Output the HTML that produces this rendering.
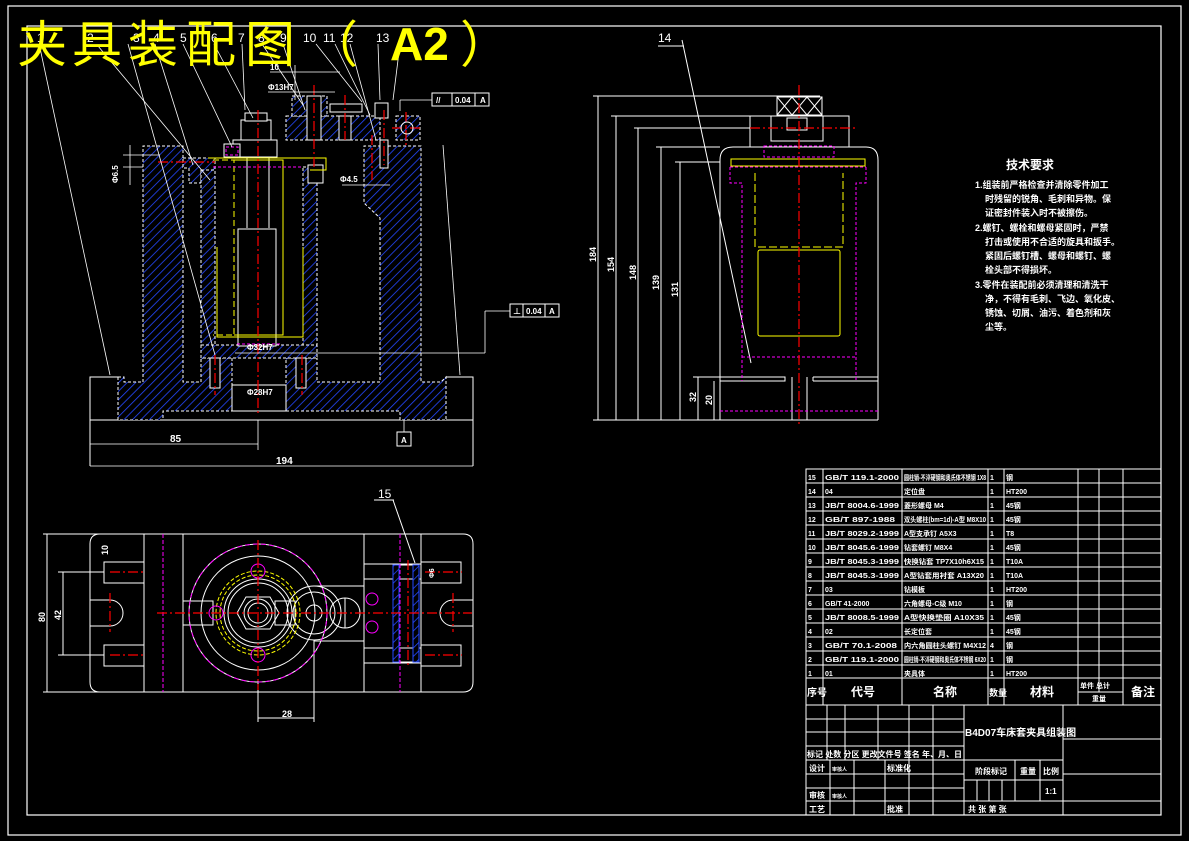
<!DOCTYPE html>
<html><head><meta charset="utf-8"><style>
html,body{margin:0;padding:0;background:#000;}
svg{display:block}
text{font-family:"Liberation Sans","Noto Sans CJK SC",sans-serif;}
</style></head><body>
<svg width="1189" height="841" viewBox="0 0 1189 841" xmlns="http://www.w3.org/2000/svg">
<defs>
<pattern id="h" patternUnits="userSpaceOnUse" width="6" height="6" patternTransform="rotate(45)">
<rect width="6" height="6" fill="#000"/><line x1="0" y1="0" x2="0" y2="6" stroke="#2448ff" stroke-width="1.6"/>
</pattern>
</defs>
<rect x="0" y="0" width="1189" height="841" fill="#000"/>
<rect x="8" y="6" width="1173" height="829" fill="none" stroke="#fff" stroke-width="1.2"/>
<rect x="27" y="26" width="1134" height="789" fill="none" stroke="#fff" stroke-width="1.2"/>

<!-- ===== FRONT VIEW ===== -->
<g stroke="#fff" stroke-width="1" fill="none">
<polyline points="90,466 90,377 118,377"/>
<polyline points="446,377 473,377 473,466"/>
<line x1="90" y1="420" x2="473" y2="420"/>
</g>
<g fill="url(#h)" stroke="#fff" stroke-width="1" stroke-dasharray="3,2">
<path d="M118,377 L124,377 L124,382 L143,382 L143,146 L183,146 L183,382 L201,382 L201,358 L232,358 L232,377 L232,396 L286,396 L286,358 L317,358 L317,382 L380,382 L380,218 L364,203 L364,146 L421,146 L421,382 L441,382 L446,377 L446,420 L400,420 L400,411 L163,411 L163,420 L118,420 Z"/>
<path d="M183,158 L215,158 L215,170 L201,170 L201,183 L189,183 L189,168 L183,168 Z"/>
<path d="M201,170 L215,170 L215,345 L201,345 Z"/>
<path d="M303,167 L317,167 L317,345 L303,345 Z"/>
<path d="M201,345 L317,345 L317,358 L201,358 Z"/>
<path d="M286,116 L380,116 L380,140 L286,140 Z"/>
<path d="M292,96 L327,96 L327,116 L292,116 Z"/>
<path d="M396,116 L420,116 L420,140 L396,140 Z"/>
</g>
<g stroke="#fff" stroke-width="1" fill="#000">
<rect x="307" y="96" width="14" height="44"/>
<rect x="339" y="116" width="12" height="24"/>
<rect x="330" y="104" width="32" height="8"/>
<rect x="375" y="103" width="13" height="15"/>
<rect x="380" y="140" width="8" height="28"/>
<rect x="308" y="165" width="15" height="18"/>
<rect x="233" y="140" width="44" height="17"/>
<rect x="241" y="120" width="30" height="20"/>
<rect x="245" y="113" width="22" height="8"/>
<rect x="224" y="144" width="16" height="13"/>
<rect x="232" y="385" width="54" height="26"/>
<rect x="238" y="229" width="38" height="117"/>
<line x1="247" y1="157" x2="247" y2="228"/><line x1="269" y1="157" x2="269" y2="228"/>
<rect x="210" y="358" width="10" height="30"/><rect x="296" y="358" width="10" height="30"/>
</g>
<g stroke="#ff0" stroke-width="1" fill="none">
<polyline points="208,158 326,158 326,170 310,170"/>
<path d="M213,160 L234,160 L234,335 L213,335" stroke-dasharray="6,3"/>
<path d="M234,160 L283,160 L283,335 L234,335"/>
<path d="M217,247 L217,337 L303,337 L303,247"/>
</g>
<g stroke="#f0f" stroke-width="1" stroke-dasharray="3,2" fill="none">
<line x1="213" y1="167" x2="303" y2="167"/><line x1="237" y1="344" x2="280" y2="344"/>
<rect x="226" y="147" width="12" height="8"/>
</g>
<g stroke="#f00" stroke-width="1.2" stroke-dasharray="10,3,2,3" fill="none">
<line x1="258" y1="110" x2="258" y2="415"/>
<line x1="314" y1="85" x2="314" y2="170"/>
<line x1="345" y1="95" x2="345" y2="140"/>
<line x1="384" y1="110" x2="384" y2="165"/>
<line x1="372" y1="135" x2="372" y2="180"/>
<line x1="215" y1="355" x2="215" y2="395"/>
<line x1="302" y1="355" x2="302" y2="395"/>
<line x1="158" y1="162" x2="215" y2="162"/>
<line x1="392" y1="128" x2="420" y2="128"/>
<line x1="406" y1="112" x2="406" y2="145"/>
</g>
<circle cx="407" cy="128" r="6" fill="none" stroke="#fff"/>
<g stroke="#fff" stroke-width="0.8" fill="none">
<line x1="40" y1="48" x2="110" y2="375"/>
<line x1="98" y1="46" x2="210" y2="180"/>
<line x1="128" y1="44" x2="215" y2="355"/>
<line x1="155" y1="44" x2="193" y2="165"/>
<line x1="183" y1="44" x2="232" y2="147"/>
<line x1="214" y1="44" x2="253" y2="118"/>
<line x1="242" y1="44" x2="245" y2="110"/>
<line x1="262" y1="44" x2="303" y2="105"/>
<line x1="283" y1="44" x2="305" y2="110"/>
<line x1="316" y1="44" x2="362" y2="102"/>
<line x1="335" y1="44" x2="370" y2="115"/>
<line x1="350" y1="44" x2="376" y2="140"/>
<line x1="378" y1="44" x2="380" y2="100"/>
<line x1="400" y1="44" x2="393" y2="100"/>
<line x1="443" y1="145" x2="460" y2="375"/>
<line x1="90" y1="444" x2="258" y2="444"/><line x1="258" y1="420" x2="258" y2="450"/>
<line x1="90" y1="466" x2="473" y2="466"/>
<line x1="123" y1="155" x2="160" y2="155"/><line x1="123" y1="167" x2="143" y2="167"/>
<line x1="130" y1="145" x2="130" y2="185"/>
<line x1="342" y1="185" x2="390" y2="185"/>
<line x1="270" y1="72" x2="340" y2="72"/><line x1="268" y1="92" x2="335" y2="92"/>
<line x1="295" y1="65" x2="295" y2="100"/>
<line x1="400" y1="100" x2="400" y2="111"/><line x1="400" y1="100" x2="432" y2="100"/>
<line x1="235" y1="353" x2="485" y2="353"/><line x1="485" y1="353" x2="485" y2="311"/><line x1="485" y1="311" x2="510" y2="311"/>
<line x1="404" y1="420" x2="404" y2="432"/>
</g>
<g stroke="#fff" fill="none" stroke-width="1">
<rect x="432" y="93" width="57" height="13"/><line x1="452" y1="93" x2="452" y2="106"/><line x1="475" y1="93" x2="475" y2="106"/>
<rect x="510" y="304" width="49" height="13"/><line x1="523" y1="304" x2="523" y2="317"/><line x1="545" y1="304" x2="545" y2="317"/>
<rect x="397" y="432" width="14" height="14"/>
</g>
<g fill="#fff" font-size="8" font-weight="bold">
<text x="436" y="103">//</text><text x="455" y="103">0.04</text><text x="480" y="103">A</text>
<text x="513" y="314">⊥</text><text x="526" y="314">0.04</text><text x="549" y="314">A</text>
<text x="401" y="443">A</text>
<text x="170" y="442" font-size="10">85</text>
<text x="276" y="464" font-size="10">194</text>
<text x="247" y="350">Φ32H7</text><text x="247" y="395">Φ28H7</text>
<text x="340" y="182">Φ4.5</text><text x="270" y="70">10</text><text x="268" y="90">Φ13H7</text>
<text x="118" y="183" transform="rotate(-90 118 183)">Φ6.5</text>
</g>
<g fill="#fff" font-size="12" font-family="Liberation Serif,serif">
<text x="37" y="42">1</text><text x="87" y="42">2</text><text x="133" y="42">3</text><text x="153" y="42">4</text><text x="180" y="42">5</text><text x="211" y="42">6</text><text x="238" y="42">7</text><text x="258" y="42">8</text><text x="280" y="42">9</text><text x="303" y="42">10</text><text x="323" y="42">11</text><text x="340" y="42">12</text><text x="376" y="42">13</text>
<text x="658" y="42">14</text><text x="378" y="498">15</text>
</g>
<g fill="#ff0" font-size="50">
<text x="17" y="62" font-family="'Noto Serif CJK SC',serif">夹</text>
<text x="72" y="62" font-family="'Noto Serif CJK SC',serif">具</text>
<text x="128" y="62" font-family="'Noto Serif CJK SC',serif">装</text>
<text x="186" y="62" font-family="'Noto Serif CJK SC',serif">配</text>
<text x="245" y="62" font-family="'Noto Serif CJK SC',serif">图</text>
<text x="308" y="62" font-family="'Noto Serif CJK SC',serif">（</text>
<text x="390" y="60" font-family="Liberation Sans,sans-serif" font-weight="bold" font-size="46">A2</text>
<text x="460" y="62" font-family="'Noto Serif CJK SC',serif">）</text>
</g>

<!-- ===== SIDE VIEW ===== -->
<g stroke="#fff" stroke-width="1" fill="none">
<path d="M720,420 L720,160 Q720,147 733,147 L866,147 Q878,147 878,160 L878,420"/>
<line x1="593" y1="420" x2="878" y2="420"/>
<polyline points="693,377 785,377 785,381 720,381"/>
<polyline points="813,377 878,377"/><line x1="813" y1="377" x2="813" y2="381"/><line x1="813" y1="381" x2="878" y2="381"/>
<line x1="792" y1="377" x2="792" y2="420"/><line x1="807" y1="377" x2="807" y2="420"/>
<rect x="777" y="97" width="45" height="18"/>
<path d="M777,97 L792,115 L807,97 L822,115 M777,115 L792,97 L807,115 L822,97"/>
<rect x="750" y="116" width="99" height="31"/>
<rect x="771" y="116" width="52" height="25"/>
<rect x="787" y="118" width="20" height="12"/>
<line x1="593" y1="96" x2="820" y2="96"/>
<line x1="611" y1="116" x2="760" y2="116"/>
<line x1="634" y1="128" x2="760" y2="128"/>
<line x1="656" y1="147" x2="720" y2="147"/>
<line x1="675" y1="162" x2="720" y2="162"/>
<line x1="598" y1="96" x2="598" y2="420"/><line x1="616" y1="116" x2="616" y2="420"/><line x1="638" y1="128" x2="638" y2="420"/><line x1="661" y1="147" x2="661" y2="420"/><line x1="680" y1="162" x2="680" y2="420"/>
<line x1="698" y1="377" x2="698" y2="420"/><line x1="714" y1="381" x2="714" y2="420"/>
<line x1="682" y1="40" x2="751" y2="363"/><line x1="658" y1="46" x2="684" y2="46"/>
</g>
<g stroke="#ff0" stroke-width="1" fill="none">
<rect x="731" y="159" width="134" height="7"/>
<path d="M755,173 L755,247 L843,247 L843,173" stroke-dasharray="8,3"/>
<rect x="758" y="250" width="82" height="86" rx="2"/>
</g>
<g stroke="#f0f" stroke-width="1" stroke-dasharray="3,2" fill="none">
<rect x="764" y="146" width="70" height="11"/>
<path d="M730,167 L730,183 L742,183 L742,381 M866,167 L866,183 L856,183 L856,381 M730,167 L866,167"/>
<line x1="742" y1="357" x2="856" y2="357"/><line x1="720" y1="411" x2="878" y2="411"/>
</g>
<g stroke="#f00" stroke-width="1.2" stroke-dasharray="10,3,2,3"><line x1="799" y1="85" x2="799" y2="425"/><line x1="750" y1="128" x2="858" y2="128"/></g>
<g fill="#fff" font-size="9" font-weight="bold">
<text x="596" y="262" transform="rotate(-90 596 262)">184</text>
<text x="614" y="272" transform="rotate(-90 614 272)">154</text>
<text x="636" y="280" transform="rotate(-90 636 280)">148</text>
<text x="659" y="290" transform="rotate(-90 659 290)">139</text>
<text x="678" y="297" transform="rotate(-90 678 297)">131</text>
<text x="696" y="402" transform="rotate(-90 696 402)">32</text>
<text x="712" y="405" transform="rotate(-90 712 405)">20</text>
</g>

<!-- ===== TOP VIEW ===== -->
<g stroke="#fff" stroke-width="1" fill="none">
<path d="M100,534 L463,534 Q473,534 473,544 L473,682 Q473,692 463,692 L100,692 Q90,692 90,682 L90,544 Q90,534 100,534"/>
<line x1="43" y1="534" x2="100" y2="534"/><line x1="43" y1="692" x2="100" y2="692"/><line x1="47" y1="534" x2="47" y2="692"/>
<line x1="58" y1="572" x2="104" y2="572"/><line x1="58" y1="655" x2="104" y2="655"/><line x1="63" y1="572" x2="63" y2="655"/>
<line x1="144" y1="534" x2="144" y2="692"/><line x1="183" y1="534" x2="183" y2="692"/>
<line x1="364" y1="534" x2="364" y2="692"/><line x1="421" y1="534" x2="421" y2="692"/>
<rect x="104" y="562" width="40" height="21"/><rect x="104" y="645" width="40" height="21"/>
<path d="M90,600 L110,600 A13,13 0 0 1 110,626 L90,626"/>
<path d="M473,600 L453,600 A13,13 0 0 0 453,626 L473,626"/>
<rect x="421" y="562" width="40" height="21"/><rect x="421" y="645" width="40" height="21"/>
<rect x="364" y="564" width="57" height="15"/><rect x="364" y="648" width="57" height="15"/>
<line x1="314" y1="586" x2="364" y2="586"/><line x1="314" y1="641" x2="364" y2="641"/>
<circle cx="258" cy="613" r="69"/><circle cx="258" cy="613" r="57"/><circle cx="258" cy="613" r="34"/><circle cx="258" cy="613" r="30"/>
<polygon points="246,597 270,597 279,613 270,629 246,629 237,613"/>
<circle cx="258" cy="613" r="10"/><circle cx="258" cy="613" r="14"/>
<circle cx="314" cy="613" r="21"/><circle cx="314" cy="613" r="27"/><circle cx="314" cy="613" r="8"/>
<circle cx="345" cy="613" r="15"/><line x1="345" y1="598" x2="345" y2="628"/>
<rect x="183" y="601" width="30" height="24"/><rect x="275" y="601" width="20" height="24"/>
<rect x="398" y="565" width="16" height="97"/>
<line x1="258" y1="680" x2="258" y2="722"/><line x1="314" y1="640" x2="314" y2="722"/><line x1="258" y1="718" x2="314" y2="718"/>
<line x1="393" y1="500" x2="415" y2="563"/><line x1="374" y1="500" x2="394" y2="500"/>
</g>
<g stroke="#ff0" stroke-width="1" fill="none" stroke-dasharray="4,2"><circle cx="258" cy="613" r="42"/><circle cx="258" cy="613" r="38"/></g>
<g stroke="#f0f" stroke-width="1" fill="none">
<circle cx="258" cy="613" r="69" stroke-dasharray="5,3"/>
<circle cx="258" cy="571" r="7"/><circle cx="258" cy="655" r="7"/><circle cx="216" cy="613" r="7"/>
<circle cx="372" cy="599" r="6"/><circle cx="372" cy="627" r="6"/>
<line x1="163" y1="534" x2="163" y2="692" stroke-dasharray="4,2"/>
<line x1="400" y1="534" x2="400" y2="692" stroke-dasharray="4,2"/>
</g>
<g fill="url(#h)" stroke="#2448ff"><rect x="393" y="565" width="6" height="97"/><rect x="413" y="565" width="6" height="97"/></g>
<g stroke="#f00" stroke-width="1.2" stroke-dasharray="10,3,2,3">
<line x1="157" y1="613" x2="472" y2="613"/><line x1="258" y1="540" x2="258" y2="690"/>
<line x1="110" y1="572" x2="145" y2="572"/><line x1="110" y1="655" x2="145" y2="655"/>
<line x1="110" y1="593" x2="110" y2="632"/><line x1="453" y1="593" x2="453" y2="632"/>
<line x1="425" y1="572" x2="462" y2="572"/><line x1="425" y1="655" x2="462" y2="655"/>
<line x1="408" y1="560" x2="408" y2="668"/>
</g>
<g fill="#fff" font-size="9" font-weight="bold">
<text x="45" y="622" transform="rotate(-90 45 622)">80</text>
<text x="61" y="620" transform="rotate(-90 61 620)">42</text>
<text x="108" y="555" transform="rotate(-90 108 555)">10</text>
<text x="282" y="717">28</text>
<text x="424" y="576" font-size="7" transform="rotate(-90 430 572)">Φ6</text>
</g>

<!-- ===== TECH REQUIREMENTS ===== -->
<g fill="#fff" font-size="9" font-family="'Noto Sans CJK SC',sans-serif" font-weight="bold">
<text x="1006" y="169" font-size="12">技术要求</text>
<text x="975" y="188">1.组装前严格检查并清除零件加工</text>
<text x="985" y="202">时残留的锐角、毛刺和异物。保</text>
<text x="985" y="216">证密封件装入时不被擦伤。</text>
<text x="975" y="231">2.螺钉、螺栓和螺母紧固时，严禁</text>
<text x="985" y="245">打击或使用不合适的旋具和扳手。</text>
<text x="985" y="259">紧固后螺钉槽、螺母和螺钉、螺</text>
<text x="985" y="273">栓头部不得损坏。</text>
<text x="975" y="288">3.零件在装配前必须清理和清洗干</text>
<text x="985" y="302">净，不得有毛刺、飞边、氧化皮、</text>
<text x="985" y="316">锈蚀、切屑、油污、着色剂和灰</text>
<text x="985" y="330">尘等。</text>
</g>

<!-- ===== BOM / TITLE BLOCK ===== -->
<g stroke="#fff" stroke-width="1" fill="none">
<rect x="806" y="469" width="355" height="346"/>
<path d="M806,483 H1161 M806,497 H1161 M806,511 H1161 M806,525 H1161 M806,539 H1161 M806,553 H1161 M806,567 H1161 M806,581 H1161 M806,595 H1161 M806,609 H1161 M806,623 H1161 M806,637 H1161 M806,651 H1161 M806,665 H1161 M806,678 H1161 M806,705 H1161"/>
<path d="M823,469 V705 M902,469 V705 M988,469 V705 M1004,469 V705 M1078,469 V705 M1123,469 V705 M1099,469 V692 M1078,692 H1123"/>
<path d="M806,719 H964 M806,732 H964 M806,746 H964 M806,760 H1063 M806,774 H964 M806,788 H964 M806,801 H1161 M964,780 H1063 M1063,739 H1161 M1063,774 H1161"/>
<path d="M964,705 V815 M1063,705 V815"/>
<path d="M827,705 V760 M845,705 V760 M878,705 V760 M909,705 V760 M933,705 V760"/>
<path d="M830,760 V815 M854,760 V815 M885,760 V815 M909,760 V815 M933,760 V815"/>
<path d="M1015,760 V801 M1040,760 V801 M977,780 V801 M989,780 V801 M1002,780 V801"/>
</g>
<g fill="#fff" font-size="8" font-family="'Noto Sans CJK SC',sans-serif" font-weight="bold">
<g font-size="7">
<text x="808" y="480">15</text><text x="825" y="480" textLength="74" lengthAdjust="spacingAndGlyphs">GB/T 119.1-2000</text><text x="904" y="480" textLength="82" lengthAdjust="spacingAndGlyphs">圆柱销-不淬硬钢和奥氏体不锈钢 1X8</text><text x="990" y="480">1</text><text x="1006" y="480">钢</text>
<text x="808" y="494">14</text><text x="825" y="494">04</text><text x="904" y="494">定位盘</text><text x="990" y="494">1</text><text x="1006" y="494">HT200</text>
<text x="808" y="508">13</text><text x="825" y="508" textLength="74" lengthAdjust="spacingAndGlyphs">JB/T 8004.6-1999</text><text x="904" y="508">菱形螺母 M4</text><text x="990" y="508">1</text><text x="1006" y="508">45钢</text>
<text x="808" y="522">12</text><text x="825" y="522" textLength="70" lengthAdjust="spacingAndGlyphs">GB/T 897-1988</text><text x="904" y="522" textLength="82" lengthAdjust="spacingAndGlyphs">双头螺柱(bm=1d)-A型 M8X10</text><text x="990" y="522">1</text><text x="1006" y="522">45钢</text>
<text x="808" y="536">11</text><text x="825" y="536" textLength="74" lengthAdjust="spacingAndGlyphs">JB/T 8029.2-1999</text><text x="904" y="536">A型支承钉 A5X3</text><text x="990" y="536">1</text><text x="1006" y="536">T8</text>
<text x="808" y="550">10</text><text x="825" y="550" textLength="74" lengthAdjust="spacingAndGlyphs">JB/T 8045.6-1999</text><text x="904" y="550">钻套螺钉 M8X4</text><text x="990" y="550">1</text><text x="1006" y="550">45钢</text>
<text x="808" y="564">9</text><text x="825" y="564" textLength="74" lengthAdjust="spacingAndGlyphs">JB/T 8045.3-1999</text><text x="904" y="564" textLength="80" lengthAdjust="spacingAndGlyphs">快换钻套 TP7X10h6X15</text><text x="990" y="564">1</text><text x="1006" y="564">T10A</text>
<text x="808" y="578">8</text><text x="825" y="578" textLength="74" lengthAdjust="spacingAndGlyphs">JB/T 8045.3-1999</text><text x="904" y="578" textLength="80" lengthAdjust="spacingAndGlyphs">A型钻套用衬套 A13X20</text><text x="990" y="578">1</text><text x="1006" y="578">T10A</text>
<text x="808" y="592">7</text><text x="825" y="592">03</text><text x="904" y="592">钻模板</text><text x="990" y="592">1</text><text x="1006" y="592">HT200</text>
<text x="808" y="606">6</text><text x="825" y="606">GB/T 41-2000</text><text x="904" y="606">六角螺母-C级 M10</text><text x="990" y="606">1</text><text x="1006" y="606">钢</text>
<text x="808" y="620">5</text><text x="825" y="620" textLength="74" lengthAdjust="spacingAndGlyphs">JB/T 8008.5-1999</text><text x="904" y="620" textLength="80" lengthAdjust="spacingAndGlyphs">A型快换垫圈 A10X35</text><text x="990" y="620">1</text><text x="1006" y="620">45钢</text>
<text x="808" y="634">4</text><text x="825" y="634">02</text><text x="904" y="634">长定位套</text><text x="990" y="634">1</text><text x="1006" y="634">45钢</text>
<text x="808" y="648">3</text><text x="825" y="648" textLength="72" lengthAdjust="spacingAndGlyphs">GB/T 70.1-2008</text><text x="904" y="648" textLength="82" lengthAdjust="spacingAndGlyphs">内六角圆柱头螺钉 M4X12</text><text x="990" y="648">4</text><text x="1006" y="648">钢</text>
<text x="808" y="662">2</text><text x="825" y="662" textLength="74" lengthAdjust="spacingAndGlyphs">GB/T 119.1-2000</text><text x="904" y="662" textLength="82" lengthAdjust="spacingAndGlyphs">圆柱销-不淬硬钢和奥氏体不锈钢 6X20</text><text x="990" y="662">1</text><text x="1006" y="662">钢</text>
<text x="808" y="676">1</text><text x="825" y="676">01</text><text x="904" y="676">夹具体</text><text x="990" y="676">1</text><text x="1006" y="676">HT200</text>
</g>
<text x="807" y="696" font-size="10">序号</text><text x="851" y="696" font-size="12">代号</text><text x="933" y="696" font-size="12">名称</text><text x="989" y="696" font-size="9">数量</text><text x="1030" y="696" font-size="12">材料</text>
<text x="1080" y="688" font-size="7">单件 总计</text><text x="1092" y="701" font-size="7">重量</text><text x="1131" y="696" font-size="12">备注</text>
<text x="965" y="736" font-size="10">B4D07车床套夹具组装图</text>
<text x="807" y="757" textLength="155" lengthAdjust="spacingAndGlyphs">标记 处数  分区  更改文件号 签名 年、月、日</text>
<text x="809" y="771">设计</text><text x="832" y="771" font-size="5">审核人</text><text x="887" y="771">标准化</text>
<text x="975" y="774">阶段标记</text><text x="1020" y="774">重量</text><text x="1043" y="774">比例</text>
<text x="1045" y="794">1:1</text>
<text x="809" y="798">审核</text><text x="832" y="798" font-size="5">审核人</text>
<text x="809" y="812">工艺</text><text x="887" y="812">批准</text>
<text x="968" y="812">共    张   第    张</text>
</g>
</svg>
</body></html>
